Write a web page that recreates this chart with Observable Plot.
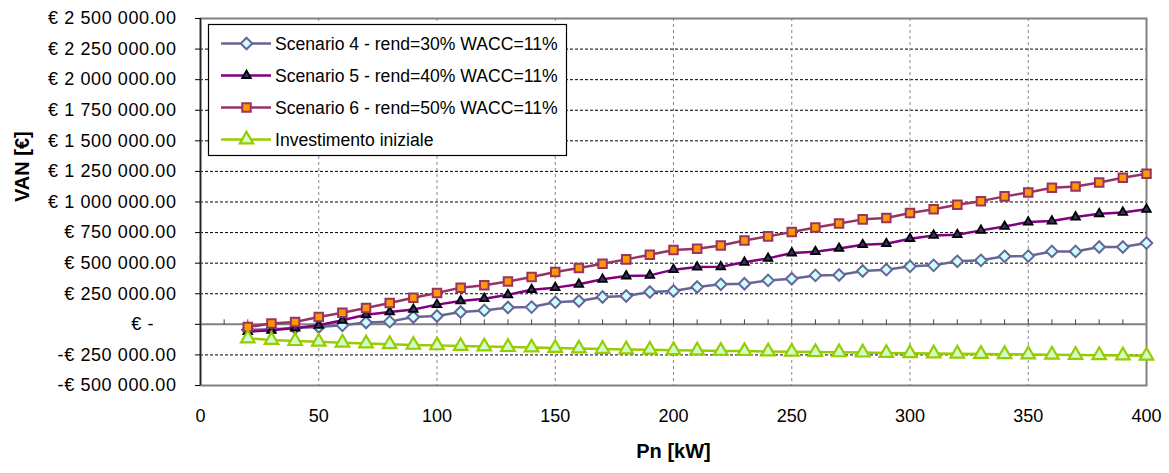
<!DOCTYPE html>
<html><head><meta charset="utf-8">
<script src="https://cdn.jsdelivr.net/npm/d3@7"></script>
<script src="https://cdn.jsdelivr.net/npm/@observablehq/plot@0.6"></script>
<style>
body{margin:0;background:#fff;}
#chart svg{display:block;font-family:"Liberation Sans",Arial,sans-serif;background:#fff;}
g[aria-label="y-axis tick label"] text{letter-spacing:0.6px;}
</style></head><body><div id="chart"></div>
<script>
// ---- data ----
const pn = [20,30,40,50,60,70,80,90,100,110,120,130,140,150,160,170,180,190,200,210,220,230,240,250,260,270,280,290,300,310,320,330,340,350,360,370,380,390,400];
const scenario4 = [-45000,-40000,-30000,-22000,-8000,15000,22000,60000,68000,101000,114000,138000,141000,180000,191000,223000,232000,264000,272000,305000,327000,332000,359000,373000,400000,403000,436000,447000,474000,482000,515000,523000,556000,558000,596000,596000,632000,632000,664000];
const scenario5 = [-60000,-49000,-30000,-8000,33000,79000,101000,122000,161000,191000,210000,241000,283000,300000,327000,368000,395000,400000,447000,468000,470000,507000,539000,583000,594000,620000,651000,659000,700000,727000,733000,768000,800000,836000,844000,877000,904000,915000,940000];
const scenario6 = [-22000,6000,19000,60000,95000,133000,174000,218000,256000,300000,319000,350000,387000,428000,460000,496000,531000,569000,607000,618000,645000,686000,719000,754000,792000,825000,858000,869000,910000,940000,978000,1007000,1046000,1078000,1117000,1127000,1160000,1198000,1231000];
const investimento = [-115000,-128000,-137000,-143000,-150000,-156000,-162000,-168000,-172000,-177000,-181000,-186000,-190000,-194000,-198000,-201000,-205000,-208000,-211000,-214000,-217000,-219000,-222000,-224000,-227000,-229000,-231000,-234000,-236000,-238000,-240000,-242000,-244000,-246000,-248000,-250000,-252000,-254000,-256000];
const seriesNames = ["Scenario 4 - rend=30% WACC=11%","Scenario 5 - rend=40% WACC=11%","Scenario 6 - rend=50% WACC=11%","Investimento iniziale"];
const seriesValues = [scenario4, scenario5, scenario6, investimento];
const yTicks = [-500000,-250000,0,250000,500000,750000,1000000,1250000,1500000,1750000,2000000,2250000,2500000];
const xTicks = [0,50,100,150,200,250,300,350,400];
const minorTicks = [10,20,30,40,50,60,70,80,90,100,110,120,130,140,150,160,170,180,190,200,210,220,230,240,250,260,270,280,290,300,310,320,330,340,350,360,370,380,390];
const xTitle = "Pn [kW]";
const yTitle = "VAN [€]";

// ---- styles ----
const styles = [
  {line:"#666699", symbol:"diamond2", fill:"#CCFFFF", stroke:"#666699", r:5.2, sw:2},
  {line:"#800080", symbol:"triangle", fill:"#333366", stroke:"#000000", r:3.2, sw:1.8},
  {line:"#993366", symbol:"square", fill:"#FF9900", stroke:"#993366", r:4.8, sw:2},
  {line:"#99CC00", symbol:"triangle", fill:"#CCFFCC", stroke:"#99CC00", r:5.0, sw:2.2}
];

const rows = seriesNames.map((name, s) => pn.map((x, i) => ({series: name, pn: x, value: seriesValues[s][i]})));

const numFmt = d3.formatLocale({decimal:".", thousands:" ", grouping:[3], currency:["",""]}).format(",.2f");
const yFmt = v => v === 0 ? "€ -" + "\u00a0".repeat(4) : (v < 0 ? "-" : "") + "€ " + numFmt(Math.abs(v));

const tickSymbol = {draw(ctx, size){ ctx.moveTo(0,0); ctx.lineTo(0,-5); }};

const marks = [
  Plot.ruleY(yTicks.filter(d => d !== 0 && d !== yTicks[0] && d !== yTicks[yTicks.length-1]), {stroke:"#000", strokeDasharray:"3,2", strokeWidth:1}),
  Plot.ruleX(xTicks.filter(d => d > 0 && d < 400), {stroke:"#888", strokeDasharray:"3,3", strokeWidth:1}),
  Plot.frame({stroke:"#808080", strokeWidth:2}),
  Plot.ruleY([0], {stroke:"#808080", strokeWidth:2}),
  Plot.dot(minorTicks, {x: d => d, y: () => 0, symbol: tickSymbol, stroke:"#444", strokeWidth:1, r:3}),
  Plot.ruleX([0], {stroke:"#222", strokeWidth:1.5}),
  Plot.axisY({ticks: yTicks, tickFormat: yFmt, tickSize:5, tickPadding:19, fontSize:18, label:null}),
  Plot.axisX({ticks: xTicks, tickFormat: d => d, tickSize:0, tickPadding:24, fontSize:18, label:null}),
  Plot.text([xTitle], {frameAnchor:"bottom", dy:72, fontSize:20, fontWeight:"bold"}),
  Plot.text([yTitle], {frameAnchor:"left", dx:-178, rotate:-90, fontSize:20, fontWeight:"bold"})
];
rows.forEach((data, s) => {
  const st = styles[s];
  marks.push(Plot.line(data, {x:"pn", y:"value", stroke: st.line, strokeWidth:2.5}));
  marks.push(Plot.dot(data, {x:"pn", y:"value", symbol: st.symbol, r: st.r, fill: st.fill, stroke: st.stroke, strokeWidth: st.sw}));
});

const chart = Plot.plot({
  width:1169, height:473,
  marginLeft:200, marginRight:23, marginTop:18, marginBottom:88,
  x:{domain:[0,400]},
  y:{domain:[yTicks[0], yTicks[yTicks.length-1]]},
  style:{fontFamily:'"Liberation Sans", Arial, sans-serif', color:"#000", background:"#fff"},
  marks
});
document.getElementById("chart").append(chart);

// ---- legend ----
const svg = d3.select(chart);
const lg = svg.append("g").attr("font-family",'"Liberation Sans", Arial, sans-serif').attr("font-size",17.6).attr("text-anchor","start");
lg.append("rect").attr("x",208.5).attr("y",24.5).attr("width",358).attr("height",131).attr("fill","#fff").attr("stroke","#000").attr("stroke-width",1.2);
const symMap = {diamond2: d3.symbolDiamond2, triangle: d3.symbolTriangle, square: d3.symbolSquare};
seriesNames.forEach((name, s) => {
  const st = styles[s];
  const cy = 43.5 + s * 32;
  lg.append("line").attr("x1",221).attr("x2",271).attr("y1",cy).attr("y2",cy).attr("stroke",st.line).attr("stroke-width",2.5);
  lg.append("path").attr("transform",`translate(246.5,${cy})`).attr("d", d3.symbol(symMap[st.symbol], Math.PI*st.r*st.r)()).attr("fill",st.fill).attr("stroke",st.stroke).attr("stroke-width",st.sw);
  lg.append("text").attr("x",275).attr("y",cy).attr("dy","0.35em").attr("text-anchor","start").attr("fill","#000").text(name);
});
</script></body></html>
